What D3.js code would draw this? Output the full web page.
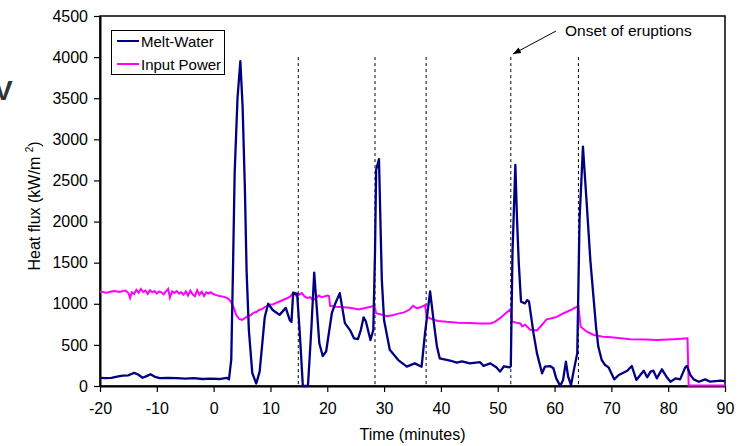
<!DOCTYPE html>
<html>
<head>
<meta charset="utf-8">
<script src="https://cdn.jsdelivr.net/npm/d3@7"></script>
<style>
  body { margin: 0; background: #fff; }
  text { font-family: "Liberation Sans", Arial, sans-serif; }
</style>
</head>
<body>
<svg id="chart" width="744" height="446"></svg>
<script>
// data
var meltTime = [-20,-19,-18,-17,-16,-15,-14,-13.3,-12.5,-11.8,-11.1,-10.3,-9.5,-8,-6.5,-5,-3.5,-2,-0.5,1,2.3,2.7,3.1,3.4,3.7,4.2,4.7,5.1,5.5,5.8,6.2,6.8,7.5,8.1,9.0,9.6,10.4,11.6,12.7,13.4,13.7,14.0,14.7,15.2,15.7,16.6,17.2,17.7,18.1,18.6,19.2,19.8,20.8,21.3,22.2,23.1,24.0,24.7,25.4,25.9,26.4,26.8,27.6,28.1,28.4,28.6,29.1,29.6,30.0,31.0,32.5,34.0,35.4,36.6,37.2,38.1,38.7,39.3,39.8,41.6,42.8,43.7,45.1,46.9,47.5,48.7,49.8,50.4,51.1,52.1,52.3,52.6,53.1,53.4,53.7,54.1,54.8,55.2,55.5,56.3,56.9,57.8,58.3,59.2,59.8,60.3,61.0,61.5,62.0,62.4,62.9,63.3,64.0,64.4,65.0,65.7,66.3,66.9,67.3,67.7,68.3,68.9,69.5,70.5,71.3,72.1,72.8,73.6,74.4,75.1,75.7,76.3,76.9,77.4,78.0,78.9,79.7,80.4,81.3,82.1,83.0,83.3,83.9,84.5,85.4,86.5,87.4,89.2,90];
var meltWater = [100,95,100,115,125,130,160,140,100,120,143,110,95,100,95,90,95,85,90,85,100,80,320,1400,2590,3500,3950,3400,2400,1400,680,160,30,175,840,1000,925,865,950,800,780,1135,1120,600,0,0,700,1380,1000,520,365,420,885,985,1130,765,680,580,570,680,835,785,560,680,1620,2630,2760,1290,800,440,315,235,275,235,640,1150,800,480,335,310,285,300,275,290,245,275,225,175,240,227,240,1620,2690,2020,1500,1025,1005,1045,1030,640,400,155,235,243,215,93,0,73,296,113,10,160,400,2020,2910,2180,1530,1045,720,480,316,255,227,81,134,162,186,243,73,134,186,106,175,186,93,203,113,52,93,81,227,243,134,81,52,81,52,65,60];

var powerTime = [-20,-19.5,-19,-18.5,-18,-17.5,-17,-16.5,-16,-15.5,-15,-14.7,-14.4,-14,-13.6,-13.2,-12.8,-12.4,-12,-11.6,-11.2,-10.8,-10.4,-10,-9.6,-9.2,-8.8,-8.4,-8,-7.7,-7.3,-6.9,-6.5,-6.1,-5.7,-5.3,-4.9,-4.5,-4.1,-3.7,-3.3,-2.9,-2.5,-2.1,-1.7,-1.3,-0.9,-0.5,0,0.5,1,1.5,2,2.5,3,3.5,4,4.5,5,5.5,6,6.5,7,7.5,8,8.5,9,9.5,10,10.5,11,11.5,12,12.5,13,13.5,14,14.5,15,15.5,16,16.5,17,17.5,18,18.5,19,19.5,20,20.3,20.5,21.5,22.5,23.5,24.5,25.5,26.5,27.5,28.3,28.6,29.5,30.5,31.5,32.5,33.5,34.5,35.1,35.8,36.5,37.2,37.5,38.5,39.5,41,43,45,47,48.7,49.5,50.5,51.5,52.3,52.5,53.5,54,54.3,54.8,55.2,55.7,56.9,57.8,58.6,59.5,60.4,61.6,63,64.2,64.6,65.7,66.9,68.5,70,73.3,76,78,81,83.4,83.6,90];
var inputPower = [1150,1145,1135,1140,1150,1155,1150,1145,1155,1160,1130,1070,1140,1120,1170,1135,1180,1145,1160,1120,1165,1140,1155,1125,1150,1140,1115,1150,1180,1075,1150,1130,1155,1125,1140,1110,1150,1100,1160,1115,1090,1165,1110,1145,1095,1140,1125,1140,1115,1105,1095,1090,1080,1065,1030,960,860,815,805,825,850,860,890,900,925,935,960,975,990,995,1010,1025,1040,1055,1070,1090,1130,1100,1110,1130,1090,1070,1080,1045,1070,1100,1080,1090,1100,1095,975,965,960,955,945,930,945,960,975,885,870,850,860,880,895,930,975,945,960,985,845,810,790,780,770,765,760,760,780,830,890,935,785,765,760,725,745,720,685,675,745,810,825,840,885,930,975,720,660,620,600,592,568,565,560,570,580,5,5];

var eruptionTimes = [14.9, 28.4, 37.4, 52.3, 64.2];
var xTicks = [-20,-10,0,10,20,30,40,50,60,70,80,90];
var yTicks = [0,500,1000,1500,2000,2500,3000,3500,4000,4500];
var seriesNames = ["Melt-Water", "Input Power"];
var seriesColors = ["#000080", "#ff00ff"];

var svg = d3.select("#chart");
var plotLeft = 100, plotRight = 725, plotTop = 16, plotBottom = 386;

var x = d3.scaleLinear().domain([-20, 90]).range([plotLeft, plotRight]);
var y = d3.scaleLinear().domain([0, 4500]).range([plotBottom, plotTop]);

// frame (top and right)
svg.append("rect")
  .attr("x", plotLeft).attr("y", plotTop)
  .attr("width", plotRight - plotLeft).attr("height", plotBottom - plotTop)
  .attr("fill", "none").attr("stroke", "#000").attr("stroke-width", 1.5);

// axes
var plainNum = function (d) { return String(d); };
var xAxis = svg.append("g")
  .attr("transform", "translate(0," + plotBottom + ")")
  .call(d3.axisBottom(x).tickValues(xTicks).tickFormat(plainNum).tickSize(6).tickSizeOuter(0));
var yAxis = svg.append("g")
  .attr("transform", "translate(" + plotLeft + ",0)")
  .call(d3.axisLeft(y).tickValues(yTicks).tickFormat(plainNum).tickSize(6).tickSizeOuter(0));

[xAxis, yAxis].forEach(function (g) {
  g.select(".domain").attr("stroke", "#000").attr("stroke-width", 2);
  g.selectAll(".tick line").attr("stroke", "#000").attr("stroke-width", 1.2);
  g.selectAll(".tick text").attr("fill", "#000")
    .style("font-size", "16px").style("font-family", "Liberation Sans, Arial, sans-serif");
});
xAxis.selectAll(".tick text").attr("y", 12).attr("dy", "1em");
yAxis.selectAll(".tick text").attr("x", -12);

// axis titles
svg.append("text")
  .attr("x", (plotLeft + plotRight) / 2).attr("y", 440)
  .attr("text-anchor", "middle").style("font-size", "16px")
  .text("Time (minutes)");

var yl = svg.append("text")
  .attr("transform", "translate(40," + 206 + ") rotate(-90)")
  .attr("text-anchor", "middle").style("font-size", "16px");
yl.append("tspan").text("Heat flux (kW/m ");
yl.append("tspan").attr("dy", -7).style("font-size", "10px").text("2");
yl.append("tspan").attr("dy", 7).text(")");

// dashed eruption lines
svg.append("g").selectAll("line")
  .data(eruptionTimes)
  .enter()
  .append("line")
  .attr("x1", function (d) { return x(d); })
  .attr("x2", function (d) { return x(d); })
  .attr("y1", y(4000))
  .attr("y2", plotBottom)
  .attr("stroke", "#000").attr("stroke-width", 1)
  .attr("stroke-dasharray", "3,3");

// series lines
var line = d3.line()
  .x(function (d) { return x(d[0]); })
  .y(function (d) { return y(d[1]); });

var powerData = powerTime.map(function (t, i) { return [t, inputPower[i]]; });
var meltData = meltTime.map(function (t, i) { return [t, meltWater[i]]; });

svg.append("path").datum(powerData)
  .attr("d", line).attr("fill", "none")
  .attr("stroke", seriesColors[1]).attr("stroke-width", 2);
svg.append("path").datum(meltData)
  .attr("d", line).attr("fill", "none")
  .attr("stroke", seriesColors[0]).attr("stroke-width", 2.3)
  .attr("stroke-linejoin", "round");

// legend
var legend = svg.append("g");
legend.append("rect")
  .attr("x", 111.5).attr("y", 30.5).attr("width", 113).attr("height", 44)
  .attr("fill", "#fff").attr("stroke", "#000").attr("stroke-width", 1);
seriesNames.forEach(function (name, i) {
  var ly = 41 + i * 23;
  legend.append("line")
    .attr("x1", 117).attr("x2", 139).attr("y1", ly).attr("y2", ly)
    .attr("stroke", seriesColors[i]).attr("stroke-width", 2);
  legend.append("text")
    .attr("x", 141).attr("y", ly + 5.5)
    .style("font-size", "15px").text(name);
});

// annotation
svg.append("defs").append("marker")
  .attr("id", "arrow").attr("viewBox", "0 0 10 10")
  .attr("refX", 10).attr("refY", 5)
  .attr("markerWidth", 8).attr("markerHeight", 8)
  .attr("orient", "auto")
  .append("path").attr("d", "M0,1 L10,5 L0,9 Z").attr("fill", "#000");
svg.append("line")
  .attr("x1", 556).attr("y1", 31).attr("x2", 513).attr("y2", 54)
  .attr("stroke", "#000").attr("stroke-width", 1)
  .attr("marker-end", "url(#arrow)");
svg.append("text")
  .attr("x", 565).attr("y", 36)
  .style("font-size", "15.5px").text("Onset of eruptions");

// stray glyph cut at the left edge of the picture
svg.append("text")
  .attr("x", -6).attr("y", 100)
  .style("font-size", "28px").style("font-weight", "bold").attr("fill", "#333")
  .text("V");
</script>
</body>
</html>
